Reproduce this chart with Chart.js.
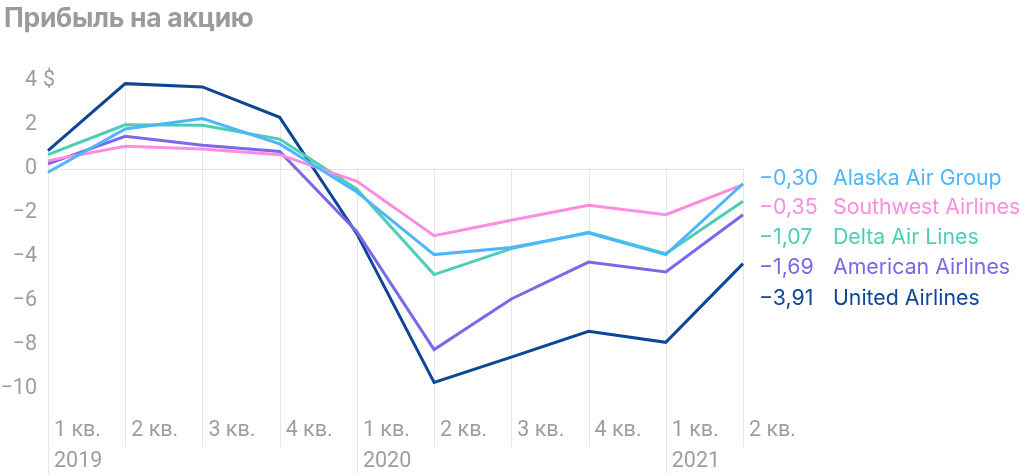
<!DOCTYPE html>
<html>
<head>
<meta charset="utf-8">
<script src="https://cdn.jsdelivr.net/npm/chart.js@4"></script>
<style>
  html, body { margin: 0; padding: 0; background: #ffffff; }
  #wrap { position: relative; width: 1024px; height: 474px; overflow: hidden; }
  canvas { position: absolute; left: 0; top: 0; }
  #title { position: absolute; left: 4px; top: 1px; font-family: Inter, "Noto Sans", sans-serif; font-weight: 700; font-size: 26.5px; color: #9b9b9b; letter-spacing: -0.3px; white-space: nowrap; }
  .leg { position: absolute; left: 759px; font-family: Inter, "Noto Sans", sans-serif; font-size: 21.3px; white-space: nowrap; line-height: 24px; }
  .leg .v { display: inline-block; width: 74px; }
</style>
</head>
<body>
<div id="wrap">
  <canvas id="c" width="1024" height="474"></canvas>
  <div id="title">Прибыль на акцию</div>
</div>
<script>
const quarterLabels = ['1 кв.', '2 кв.', '3 кв.', '4 кв.', '1 кв.', '2 кв.', '3 кв.', '4 кв.', '1 кв.', '2 кв.'];
const yearLabels = ['2019', '', '', '', '2020', '', '', '', '2021', ''];
const yTicks = [4, 2, 0, -2, -4, -6, -8, -10];

const seriesNames = ['Alaska Air Group', 'Southwest Airlines', 'Delta Air Lines', 'American Airlines', 'United Airlines'];
const seriesLegendValues = ['−0,30', '−0,35', '−1,07', '−1,69', '−3,91'];
const seriesColors = ['#4db6ff', '#ff8ce1', '#4ecdb6', '#7a68e8', '#0c4696'];

const alaska    = [-0.15, 1.82, 2.29, 1.14, -1.05, -3.89, -3.57, -2.91, -3.89, -0.67];
const southwest = [ 0.38, 1.03, 0.91, 0.65, -0.56, -3.03, -2.33, -1.65, -2.08, -0.71];
const delta     = [ 0.65, 2.01, 1.99, 1.36, -0.92, -4.80, -3.62, -2.88, -3.85, -1.47];
const american  = [ 0.23, 1.49, 1.08, 0.80, -2.85, -8.21, -5.91, -4.23, -4.68, -2.08];
const united    = [ 0.83, 3.88, 3.73, 2.35, -2.95, -9.70, -8.55, -7.38, -7.88, -4.30];
const seriesData = [alaska, southwest, delta, american, united];

const legendTops = [165, 194, 224, 254, 285];

const GRID = '#e6e6e6';
const TICK = '#9e9e9e';

// legend as HTML text
const wrap = document.getElementById('wrap');
seriesNames.forEach((name, i) => {
  const d = document.createElement('div');
  d.className = 'leg';
  d.style.top = legendTops[i] + 'px';
  d.style.color = seriesColors[i];
  d.innerHTML = '<span class="v"></span><span class="n"></span>';
  d.querySelector('.v').textContent = seriesLegendValues[i];
  d.querySelector('.n').textContent = name;
  wrap.appendChild(d);
});

const fmt = v => (v < 0 ? '−' + Math.abs(v) : String(v));

const dropLines = {
  id: 'dropLines',
  beforeDatasetsDraw(chart) {
    const ctx = chart.ctx;
    const xs = chart.scales.x, ys = chart.scales.y;
    ctx.save();
    ctx.strokeStyle = GRID;
    ctx.lineWidth = 1;
    quarterLabels.forEach((q, i) => {
      const top = Math.max(0, ...seriesData.map(s => s[i]));
      const x = Math.round(xs.getPixelForValue(i)) + 0.5;
      const y0 = ys.getPixelForValue(top);
      const y1 = yearLabels[i] ? chart.height : ys.bottom + 36;
      ctx.beginPath();
      ctx.moveTo(x, y0);
      ctx.lineTo(x, y1);
      ctx.stroke();
    });
    // dollar sign next to top tick
    ctx.fillStyle = TICK;
    ctx.font = '21.5px Roboto';
    ctx.textAlign = 'left';
    ctx.textBaseline = 'middle';
    ctx.fillText('$', 43, ys.getPixelForValue(yTicks[0]));
    ctx.restore();
  }
};

new Chart(document.getElementById('c'), {
  type: 'line',
  data: {
    labels: quarterLabels,
    datasets: seriesNames.map((n, i) => ({
      label: n,
      data: seriesData[i],
      borderColor: seriesColors[i],
      backgroundColor: seriesColors[i],
      borderWidth: 3,
      pointRadius: 0,
      tension: 0,
      fill: false
    }))
  },
  options: {
    responsive: false,
    animation: false,
    devicePixelRatio: 1,
    layout: { padding: { top: 70, right: 281, bottom: 0, left: 0 } },
    plugins: { legend: { display: false }, tooltip: { enabled: false }, title: { display: false } },
    scales: {
      x: {
        offset: false,
        grid: { display: false, drawTicks: false },
        border: { display: false },
        afterFit: s => { s.height = 63; },
        ticks: {
          autoSkip: false,
          maxRotation: 0,
          align: 'start',
          labelOffset: 6,
          padding: 4,
          color: TICK,
          font: { family: 'Roboto', size: 21.5, lineHeight: 1.45 },
          callback: (v, i) => yearLabels[i] ? [quarterLabels[i], yearLabels[i]] : quarterLabels[i]
        }
      },
      y: {
        min: -11,
        max: 4.5,
        afterBuildTicks: s => { s.ticks = yTicks.map(v => ({ value: v })); },
        afterFit: s => { s.width = 48; },
        grid: { drawTicks: false, lineWidth: 1, color: c => (c.tick && c.tick.value === 0 ? GRID : 'rgba(0,0,0,0)') },
        border: { display: false },
        ticks: {
          padding: 11,
          color: TICK,
          font: { family: 'Roboto', size: 21.5 },
          callback: v => fmt(v)
        }
      }
    }
  },
  plugins: [dropLines]
});
</script>
</body>
</html>
